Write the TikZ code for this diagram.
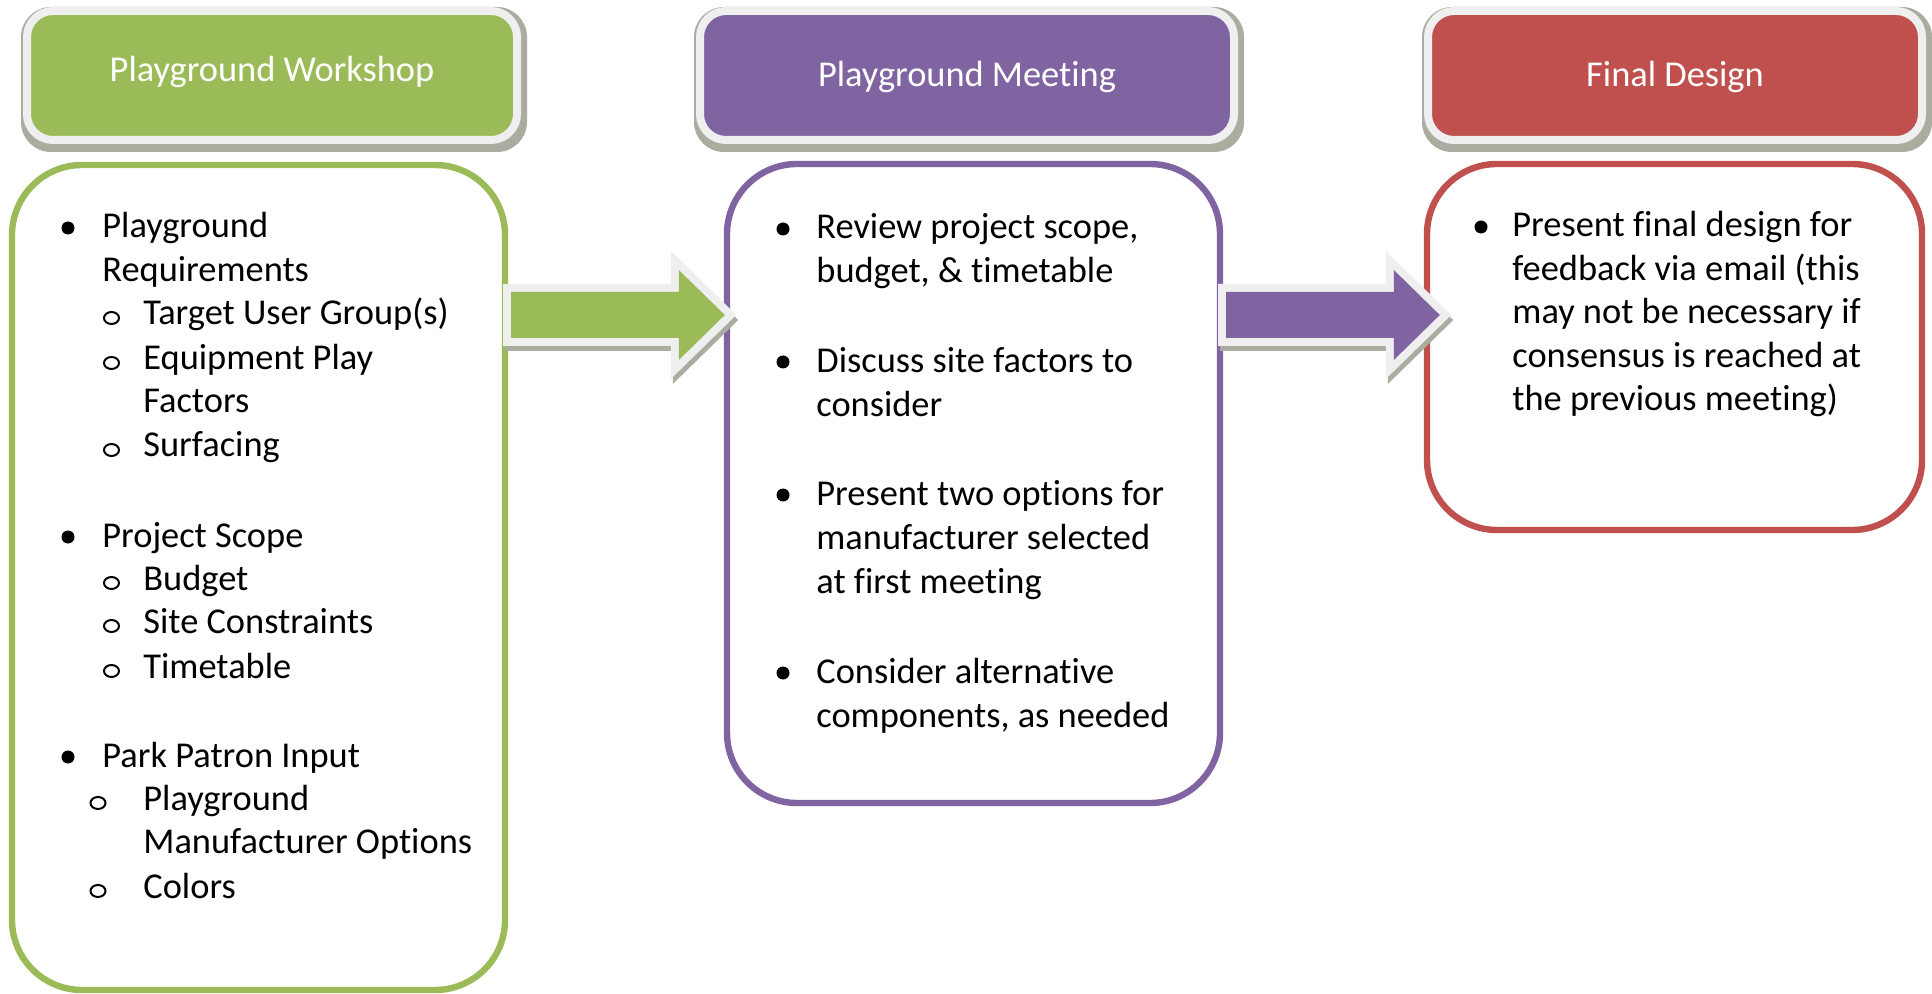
\documentclass[tikz,border=0pt]{standalone}
\usepackage{fontspec}
\setmainfont{Carlito}[Ligatures=NoCommon]
\usetikzlibrary{shapes.geometric,calc,backgrounds}
\definecolor{cgreen}{HTML}{9BBB59}
\definecolor{cpurple}{HTML}{8064A2}
\definecolor{cred}{HTML}{C0504D}
\definecolor{cframe}{HTML}{EFEFEF}
\definecolor{cshadow}{HTML}{ABAC9F}
\begin{document}
\begin{tikzpicture}[x=0.5pt,y=-0.5pt,
  header/.style={fill=#1, draw=cframe, line width=4pt, rounded corners=13pt, inner sep=0pt, minimum height=64.5pt},
  hlabel/.style={text=white, font=\fontsize{18.2}{22}\selectfont, anchor=base, inner sep=0pt},
  hshadow/.style={fill=cshadow, rounded corners=15pt},
  panel/.style={draw=#1, line width=3.2pt, fill=white, rounded corners=35pt, inner sep=0pt},
  item/.style={font=\fontsize{18.2}{22}\selectfont, anchor=base west, inner sep=0pt},
  dot/.style={circle, fill=black, inner sep=0pt, minimum size=6.5pt},
  ring/.style={ellipse, draw=black, line width=1pt, inner sep=0pt, minimum width=7.5pt, minimum height=6pt},
  blockarrow/.style={fill=#1,
    preaction={draw=cshadow, line width=8pt, transform canvas={shift={(1pt,-2.5pt)}}},
    preaction={draw=cframe, line width=8pt}},
]
\useasboundingbox (0,0) rectangle (1932,994);

% headers
\node[header=cgreen, minimum width=245pt] (h1) at (272,75.5) {};
\node[header=cpurple, minimum width=267pt] (h2) at (967,75.5) {};
\node[header=cred, minimum width=247pt] (h3) at (1675,75.5) {};
\begin{scope}[on background layer]
  \fill[white] (0,0) rectangle (1932,994);
  \fill[hshadow] ([shift={(-1pt,-4pt)}]h1.south west) rectangle ([shift={(3pt,0pt)}]h1.north east);
  \fill[hshadow] ([shift={(-1pt,-4pt)}]h2.south west) rectangle ([shift={(3pt,0pt)}]h2.north east);
  \fill[hshadow] ([shift={(-1pt,-4pt)}]h3.south west) rectangle ([shift={(3pt,0pt)}]h3.north east);
\end{scope}
\node[hlabel] (h1t) at (272,82) {Playground Workshop};
\node[hlabel] (h2t) at (967,87) {Playground Meeting};
\node[hlabel] (h3t) at (1675,87) {Final Design};

% panels
\node[panel=cgreen, minimum width=246.5pt, minimum height=412.5pt] (wbody) at (258.5,577.5) {};
\node[panel=cpurple, minimum width=246.5pt, minimum height=319.5pt] (mbody) at (973.5,483.5) {};
\node[panel=cred, minimum width=247.5pt, minimum height=183pt] (rbody) at (1674.5,347) {};

% block arrows
\coordinate (a1s) at ([xshift=1.5pt]wbody.east |- 0,315);
\coordinate (a1t) at ([xshift=0.5pt]mbody.west |- 0,315);
\coordinate (a2s) at ([xshift=1.5pt]mbody.east |- 0,315);
\coordinate (a2t) at ([xshift=8pt]rbody.west |- 0,315);
\path[blockarrow=cgreen] ($(a1s)+(0,-23)$) -- ($(a1t)+(-46,-23)$) -- ($(a1t)+(-46,-45)$) -- (a1t)
  -- ($(a1t)+(-46,45)$) -- ($(a1t)+(-46,23)$) -- ($(a1s)+(0,23)$) -- cycle;
\path[blockarrow=cpurple] ($(a2s)+(0,-23)$) -- ($(a2t)+(-46,-23)$) -- ($(a2t)+(-46,-45)$) -- (a2t)
  -- ($(a2t)+(-46,45)$) -- ($(a2t)+(-46,23)$) -- ($(a2s)+(0,23)$) -- cycle;

% workshop list
\node[dot] (gd1) at (68,228) {};
\node[item] (g1) at (102,238) {Playground};
\node[item] (g2) at (102,282) {Requirements};
\node[ring] (gr1) at (111.5,318) {};
\node[item] (g3) at (143,325) {Target User Group(s)};
\node[ring] (gr2) at (111.5,363) {};
\node[item] (g4) at (143,370) {Equipment Play};
\node[item] (g5) at (143,413) {Factors};
\node[ring] (gr3) at (111.5,450) {};
\node[item] (g6) at (143,457) {Surfacing};
\node[dot] (gd2) at (68,537) {};
\node[item] (g7) at (102,547) {Project Scope};
\node[ring] (gr4) at (111.5,583) {};
\node[item] (g8) at (143,590) {Budget};
\node[ring] (gr5) at (111.5,626) {};
\node[item] (g9) at (143,633) {Site Constraints};
\node[ring] (gr6) at (111.5,671) {};
\node[item] (g10) at (143,678) {Timetable};
\node[dot] (gd3) at (68,757) {};
\node[item] (g11) at (102,767) {Park Patron Input};
\node[ring] (gr7) at (98,803) {};
\node[item] (g12) at (143,810) {Playground};
\node[item] (g13) at (143,853) {Manufacturer Options};
\node[ring] (gr8) at (98,891) {};
\node[item] (g14) at (143,898) {Colors};

% meeting list
\node[dot] (md1) at (783,229) {};
\node[item] (m1) at (816,239) {Review project scope,};
\node[item] (m2) at (816,283) {budget, \& timetable};
\node[dot] (md2) at (783,362) {};
\node[item] (m3) at (816,372) {Discuss site factors to};
\node[item] (m4) at (816,416) {consider};
\node[dot] (md3) at (783,495) {};
\node[item] (m5) at (816,505) {Present two options for};
\node[item] (m6) at (816,549) {manufacturer selected};
\node[item] (m7) at (816,593) {at first meeting};
\node[dot] (md4) at (783,673) {};
\node[item] (m8) at (816,683) {Consider alternative};
\node[item] (m9) at (816,727) {components, as needed};

% final design list
\node[dot] (rd1) at (1481,227) {};
\node[item] (r1) at (1512,237) {Present final design for};
\node[item] (r2) at (1512,280.5) {feedback via email (this};
\node[item] (r3) at (1512,324) {may not be necessary if};
\node[item] (r4) at (1512,367.5) {consensus is reached at};
\node[item] (r5) at (1512,411) {the previous meeting)};
\end{tikzpicture}
\end{document}
